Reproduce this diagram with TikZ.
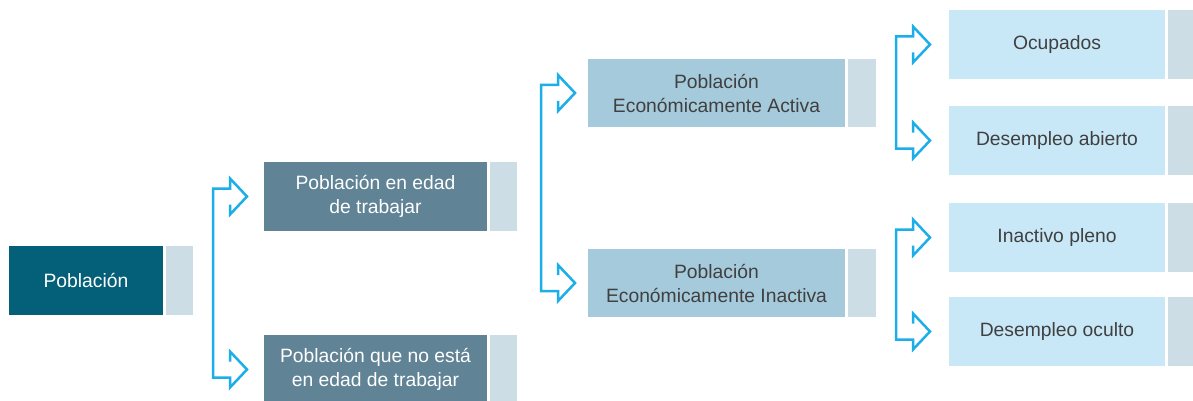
\documentclass[tikz,border=0pt]{standalone}
\usepackage{fontspec}
\setmainfont{Liberation Sans}
\usetikzlibrary{positioning,calc}

\definecolor{pobDark}{RGB}{4,95,120}
\definecolor{petSlate}{RGB}{96,131,150}
\definecolor{peaBlue}{RGB}{165,202,219}
\definecolor{leafBlue}{RGB}{200,232,247}
\definecolor{tabGrey}{RGB}{204,221,229}
\definecolor{arrowCyan}{RGB}{27,174,232}
\definecolor{textGrey}{RGB}{64,64,64}

% bracket with two open block arrows: #1 upper target, #2 lower target, #3 gap
\newcommand{\splitarrow}[3]{%
  \coordinate (tipA) at ([xshift=-#3pt]#1.west);
  \coordinate (tipB) at ([xshift=-#3pt]#2.west);
  \draw[splitline] ([shift={(-17,8)}]tipA) -- ++(0,10) -- (tipA) -- ++(-17,-18) -- ++(0,10) -- ++(-17,0)
    |- ([shift={(-17,8)}]tipB) -- ++(0,10) -- (tipB) -- ++(-17,-18) -- ++(0,10);
}

\begin{document}
\begin{tikzpicture}[x=1pt, y=-1pt]
    \tikzset{box/.style={%
      rectangle,%
      inner sep=0pt,%
      outer sep=0pt,%
      anchor=north west,%
      align=center,%
      text=textGrey,%
      font=\fontsize{19.3}{24}\selectfont}%
    };
\tikzset{tab/.style={rectangle, inner sep=0pt, outer sep=0pt, anchor=north west, fill=tabGrey, minimum width=27pt}};
\tikzset{splitline/.style={draw=arrowCyan, line width=2.5pt, line join=miter}};

\useasboundingbox (0,0) rectangle (1193,401);

%first level
\node[box, fill=pobDark, text=white, minimum width=154pt, minimum height=69pt] (pob) at (9,246) {Población};
\node[tab, minimum height=69pt] (pobTab) at ([xshift=3pt]pob.north east) {};

%second level
\node[box, fill=petSlate, text=white, minimum width=223pt, minimum height=69pt] (pet) at (264,162) {Población en edad\\de trabajar};
\node[tab, minimum height=69pt] (petTab) at ([xshift=3pt]pet.north east) {};
\node[box, fill=petSlate, text=white, minimum width=223pt, minimum height=69pt] (pnet) at (264,335) {Población que no está\\en edad de trabajar};
\node[tab, minimum height=69pt] (pnetTab) at ([xshift=3pt]pnet.north east) {};

%third level
\node[box, fill=peaBlue, minimum width=257pt, minimum height=68pt] (pea) at (588,59) {Población\\Económicamente Activa};
\node[tab, minimum height=68pt, minimum width=28pt] (peaTab) at ([xshift=3pt]pea.north east) {};
\node[box, fill=peaBlue, minimum width=257pt, minimum height=68pt] (pei) at (588,249) {Población\\Económicamente Inactiva};
\node[tab, minimum height=68pt, minimum width=28pt] (peiTab) at ([xshift=3pt]pei.north east) {};

%fourth level
\node[box, fill=leafBlue, minimum width=216pt, minimum height=69pt] (ocup) at (949,10) {Ocupados};
\node[tab, minimum height=69pt] (ocupTab) at ([xshift=3pt]ocup.north east) {};
\node[box, fill=leafBlue, minimum width=216pt, minimum height=69pt] (dabierto) at (949,106) {Desempleo abierto};
\node[tab, minimum height=69pt] (dabiertoTab) at ([xshift=3pt]dabierto.north east) {};
\node[box, fill=leafBlue, minimum width=216pt, minimum height=69pt] (inact) at (949,203) {Inactivo pleno};
\node[tab, minimum height=69pt] (inactTab) at ([xshift=3pt]inact.north east) {};
\node[box, fill=leafBlue, minimum width=216pt, minimum height=69pt] (doculto) at (949,297) {Desempleo oculto};
\node[tab, minimum height=69pt] (docultoTab) at ([xshift=3pt]doculto.north east) {};

%connectors
\splitarrow{pet}{pnet}{17}
\splitarrow{pea}{pei}{13}
\splitarrow{ocup}{dabierto}{19}
\splitarrow{inact}{doculto}{19}

\end{tikzpicture}
\end{document}
